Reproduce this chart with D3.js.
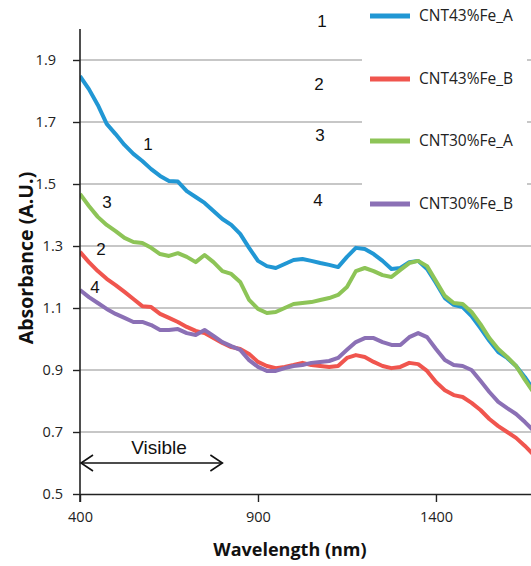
<!DOCTYPE html>
<html>
<head>
<meta charset="utf-8">
<script src="https://cdnjs.cloudflare.com/ajax/libs/d3/7.8.5/d3.min.js"></script>
<style>
    html, body { margin: 0; padding: 0; background: #fff; }
    .chart { width: 531px; height: 566px; }
    text { font-family: 'Open Sans', sans-serif; }
</style>
</head>
<body>
<div class="chart"></div>
<script>
// wavelength grid (nm), shared by all four spectra
let wavelengths = [400, 425, 450, 475, 500, 525, 550, 575, 600, 625, 650, 675, 700, 725, 750, 775,
    800, 825, 850, 875, 900, 925, 950, 975, 1000, 1025, 1050, 1075, 1100, 1125, 1150, 1175,
    1200, 1225, 1250, 1275, 1300, 1325, 1350, 1375, 1400, 1425, 1450, 1475, 1500, 1525, 1550,
    1575, 1600, 1625, 1650, 1675];

let cnt43A = [1.848, 1.806, 1.755, 1.694, 1.661, 1.626, 1.597, 1.574, 1.548, 1.526, 1.510, 1.508,
    1.477, 1.458, 1.439, 1.413, 1.387, 1.368, 1.339, 1.294, 1.252, 1.235, 1.229, 1.242, 1.255,
    1.258, 1.252, 1.245, 1.239, 1.232, 1.265, 1.294, 1.290, 1.274, 1.252, 1.226, 1.229, 1.248,
    1.252, 1.226, 1.181, 1.132, 1.110, 1.103, 1.074, 1.035, 0.994, 0.958, 0.939, 0.913, 0.877, 0.835];

let cnt43B = [1.281, 1.248, 1.219, 1.194, 1.174, 1.152, 1.129, 1.106, 1.103, 1.081, 1.068, 1.055,
    1.039, 1.026, 1.019, 1.003, 0.987, 0.974, 0.968, 0.952, 0.926, 0.913, 0.906, 0.910, 0.916,
    0.923, 0.916, 0.913, 0.910, 0.913, 0.939, 0.948, 0.942, 0.926, 0.913, 0.906, 0.910, 0.923,
    0.919, 0.897, 0.861, 0.835, 0.819, 0.813, 0.794, 0.771, 0.742, 0.719, 0.700, 0.681, 0.655, 0.626];

let cnt30A = [1.468, 1.429, 1.394, 1.368, 1.348, 1.326, 1.313, 1.310, 1.294, 1.274, 1.268, 1.277,
    1.265, 1.248, 1.271, 1.248, 1.219, 1.210, 1.184, 1.126, 1.097, 1.084, 1.087, 1.100, 1.113,
    1.116, 1.119, 1.126, 1.132, 1.142, 1.168, 1.219, 1.229, 1.219, 1.206, 1.200, 1.223, 1.245,
    1.252, 1.235, 1.187, 1.139, 1.116, 1.113, 1.087, 1.048, 1.003, 0.968, 0.942, 0.913, 0.868, 0.826];

let cnt30B = [1.158, 1.135, 1.116, 1.097, 1.081, 1.068, 1.055, 1.055, 1.045, 1.029, 1.029, 1.032,
    1.019, 1.013, 1.029, 1.010, 0.990, 0.977, 0.965, 0.932, 0.910, 0.897, 0.897, 0.906, 0.913,
    0.916, 0.923, 0.926, 0.929, 0.939, 0.965, 0.990, 1.003, 1.003, 0.990, 0.981, 0.981, 1.006,
    1.019, 1.006, 0.968, 0.932, 0.916, 0.913, 0.900, 0.865, 0.829, 0.797, 0.777, 0.758, 0.732, 0.703];

let seriesNames = ['CNT43%Fe_A', 'CNT43%Fe_B', 'CNT30%Fe_A', 'CNT30%Fe_B'];
let seriesTags = ['1', '2', '3', '4'];
let xTicks = [400, 900, 1400];
let yTicks = [0.5, 0.7, 0.9, 1.1, 1.3, 1.5, 1.7, 1.9];

let chartColors = ['#2197d4', '#f0554e', '#8dc457', '#8b70b5'];
let allSeries = [cnt43A, cnt43B, cnt30A, cnt30B];

// plot area (px)
let plot = {left: 80, right: 531, top: 29, bottom: 494};

let svg = d3.select('.chart').append('svg')
    .attr('width', 531)
    .attr('height', 566);

let x = d3.scaleLinear()
    .domain([400, 1667])
    .range([plot.left, plot.right]);

let y = d3.scaleLinear()
    .domain([0.5, 2.0])
    .range([plot.bottom, plot.top]);

// horizontal grid lines
svg.append('g')
    .selectAll('line')
    .data(yTicks.slice(1))
    .enter().append('line')
    .attr('x1', plot.left)
    .attr('x2', plot.right)
    .attr('y1', d => y(d))
    .attr('y2', d => y(d))
    .attr('stroke', '#b4b4b4')
    .attr('stroke-width', 1.3);

// legend background hides the grid in the top right
svg.append('rect')
    .attr('x', 362)
    .attr('y', 0)
    .attr('width', 165)
    .attr('height', 232)
    .attr('fill', '#fff');

// spectra
svg.append('clipPath').attr('id', 'plotClip')
    .append('rect')
    .attr('x', plot.left)
    .attr('y', 0)
    .attr('width', plot.right - plot.left)
    .attr('height', plot.bottom);

let valueLine = d3.line()
    .x((d, i) => x(wavelengths[i]))
    .y(d => y(d));

allSeries.forEach((values, index) => {
    svg.append('path')
        .datum(values)
        .attr('clip-path', 'url(#plotClip)')
        .attr('d', valueLine)
        .attr('fill', 'none')
        .attr('stroke', chartColors[index])
        .attr('stroke-width', 4)
        .attr('stroke-linejoin', 'round');
});

// y axis
let yAxisGroup = svg.append('g')
    .attr('transform', 'translate(' + plot.left + ',0)')
    .call(d3.axisLeft(y).tickValues(yTicks).tickSize(7).tickSizeOuter(0).tickPadding(17)
        .tickFormat(d3.format('.1f')));
yAxisGroup.select('.domain')
    .attr('d', 'M0,' + plot.top + 'V' + (plot.bottom + 8))
    .attr('stroke', '#222')
    .attr('stroke-width', 1.6);
yAxisGroup.selectAll('.tick line')
    .attr('stroke', '#222')
    .attr('stroke-width', 1.4);
yAxisGroup.selectAll('text')
    .attr('fill', '#222')
    .style('font-size', '14.5px')
    .style('font-family', 'Open Sans');
// the lower labels sit closer to the axis than the upper ones in the original
yAxisGroup.selectAll('.tick text')
    .attr('x', d => d < 1.4 ? -17 : -24);

// x axis
let xAxisGroup = svg.append('g')
    .attr('transform', 'translate(0,' + plot.bottom + ')')
    .call(d3.axisBottom(x).tickValues(xTicks).tickSize(8).tickSizeOuter(0).tickPadding(10)
        .tickFormat(d3.format('d')));
xAxisGroup.select('.domain')
    .attr('stroke', '#222')
    .attr('stroke-width', 1.6);
xAxisGroup.selectAll('.tick line')
    .attr('stroke', '#222')
    .attr('stroke-width', 1.4);
xAxisGroup.selectAll('text')
    .attr('fill', '#222')
    .style('font-size', '14.5px')
    .style('font-family', 'Open Sans');

// axis titles
svg.append('text')
    .attr('transform', 'translate(33,258) rotate(-90)')
    .attr('text-anchor', 'middle')
    .attr('fill', '#111')
    .style('font-size', '19.5px')
    .style('font-weight', 'bold')
    .text('Absorbance (A.U.)');

svg.append('text')
    .attr('x', 290)
    .attr('y', 556)
    .attr('text-anchor', 'middle')
    .attr('fill', '#111')
    .style('font-size', '18px')
    .style('font-weight', 'bold')
    .text('Wavelength (nm)');

// legend
let legendRows = [16, 79, 141, 204];
let legend = svg.append('g');
seriesNames.forEach((name, i) => {
    legend.append('line')
        .attr('x1', 370)
        .attr('x2', 410)
        .attr('y1', legendRows[i])
        .attr('y2', legendRows[i])
        .attr('stroke', chartColors[i])
        .attr('stroke-width', 5);
    legend.append('text')
        .attr('x', 419)
        .attr('y', legendRows[i])
        .attr('dy', '0.35em')
        .attr('fill', '#222')
        .style('font-size', '15.5px')
        .text(name);
});

// curve number tags, next to the legend and next to each curve
let tagsLegend = [[322, 21], [319, 84], [320, 135], [318, 200]];
let tagsCurve = [[148, 144], [101, 249], [107, 202], [95, 287]];
seriesTags.forEach((tag, i) => {
    [tagsLegend[i], tagsCurve[i]].forEach(pos => {
        svg.append('text')
            .attr('x', pos[0])
            .attr('y', pos[1])
            .attr('dy', '0.35em')
            .attr('text-anchor', 'middle')
            .attr('fill', '#111')
            .style('font-family', 'Liberation Sans, Arial, sans-serif')
            .style('font-size', '17px')
            .text(tag);
    });
});

// visible range arrow (400 - 800 nm)
let arrowY = 463;
let arrow = svg.append('g')
    .attr('stroke', '#111')
    .attr('stroke-width', 1.6)
    .attr('fill', 'none');
arrow.append('line')
    .attr('x1', x(400) + 1)
    .attr('x2', x(800))
    .attr('y1', arrowY)
    .attr('y2', arrowY);
arrow.append('path')
    .attr('d', 'M' + (x(400) + 13) + ',' + (arrowY - 8) + 'L' + (x(400) + 1) + ',' + arrowY +
        'L' + (x(400) + 13) + ',' + (arrowY + 8));
arrow.append('path')
    .attr('d', 'M' + (x(800) - 12) + ',' + (arrowY - 8) + 'L' + x(800) + ',' + arrowY +
        'L' + (x(800) - 12) + ',' + (arrowY + 8));

svg.append('text')
    .attr('x', 159)
    .attr('y', 454)
    .attr('text-anchor', 'middle')
    .attr('fill', '#111')
    .style('font-family', 'Liberation Sans, Arial, sans-serif')
    .style('font-size', '19px')
    .text('Visible');
</script>
</body>
</html>
